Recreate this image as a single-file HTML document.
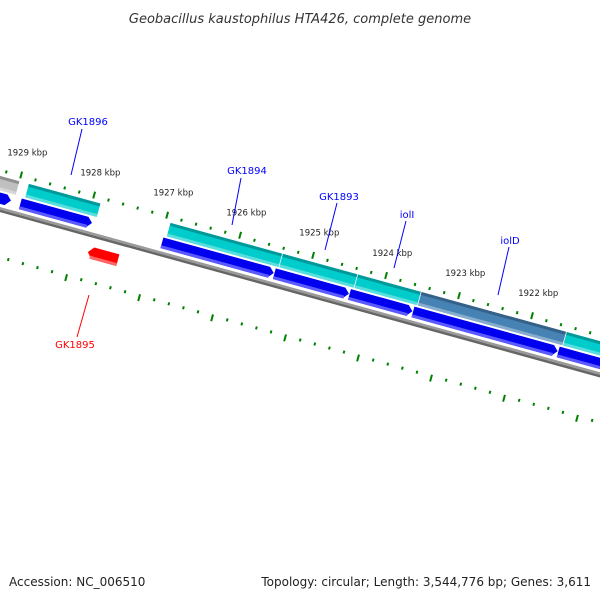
<!DOCTYPE html>
<html><head><meta charset="utf-8"><style>
body{margin:0;background:#fff}
svg{display:block;font-family:"DejaVu Sans","Liberation Sans",sans-serif}
</style></head><body>
<svg id="map" width="600" height="600" viewBox="0 0 600 600">
<text x="300" y="23" text-anchor="middle" font-size="13" font-style="italic" fill="#333">Geobacillus kaustophilus HTA426, complete genome</text>
<g id="track" transform="translate(0,207) rotate(15.4)"></g>
<g id="labels"></g>
<text x="9" y="586" font-size="12" fill="#222">Accession: NC_006510</text>
<text x="591" y="586" font-size="12" fill="#222" text-anchor="end">Topology: circular; Length: 3,544,776 bp; Genes: 3,611</text>
</svg>
<script>
// data (kbp)
const geneNames = ["prev","GK1896","GK1894","GK1893","iolI","iolD","next"];
const geneStart = [1930.2,1928.87,1926.93,1925.39,1924.36,1923.49,1921.50];
const geneEnd   = [1929.0,1927.89,1925.40,1924.37,1923.50,1921.51,1920.30];
const geneColor = ["#c0c0c0","#00cccc","#00cccc","#00cccc","#00cccc","#4682b4","#00cccc"];
const revStart = [1927.88];
const revEnd   = [1927.47];
const tickKbp = [1930,1929,1928,1927,1926,1925,1924,1923,1922,1921,1920];
const labelText = ["GK1896","GK1894","GK1893","iolI","iolD","GK1895"];
const labelColor = ["#0000ff","#0000ff","#0000ff","#0000ff","#0000ff","#ff0000"];
const labelXY = [[88,125],[247,174],[339,200],[407,218],[510,244],[75,348]];
const labelLine = [[82,129,71,175],[241,178,232,225],[337,203,325,250],[406,221,394,268],[509,247,498,295],[89,295,77,337]];

const NS="http://www.w3.org/2000/svg";
const track=document.getElementById('track');
const labels=document.getElementById('labels');
function s(k){return 87.6+(1928-k)*75.7;}
function mk(tag,attrs,parent){const e=document.createElementNS(NS,tag);for(const a in attrs)e.setAttribute(a,attrs[a]);parent.appendChild(e);return e;}

// backbone
let bb=mk('rect',{x:-50,y:0,width:800,height:2.5,fill:'#9a9a9a'},track);


let bb2=mk('rect',{x:-50,y:2.5,width:800,height:2.5,fill:'#666'},track);



const th=15.4*Math.PI/180;
tickKbp.forEach((k,i)=>{
  for(let j=0;j<5;j++){
    const kk=k-j*0.2;
    const x=s(kk);
    const major=j===0;
    let t=mk('rect',{x:x-1,y:major?-40:-37,width:2,height:major?7:3,fill:'#008000'},track);
    
    
    const x2=x-5.1;
    let t2=mk('rect',{x:x2-1,y:47,width:2,height:major?7:3,fill:'#008000'},track);
    
    
  }
  const sx=s(k), d=-60;
  const X=sx*Math.cos(th)-d*Math.sin(th), Y=207+sx*Math.sin(th)+d*Math.cos(th);
  if(X>-5 && X<575){
    let lt=mk('text',{x:X,y:Y+3,'text-anchor':'middle','font-size':8.5,fill:'#222'},labels);
    lt.textContent=k+" kbp";
    
    
  }
});

// genes
geneNames.forEach((n,i)=>{
  const a=s(geneStart[i]), b=s(geneEnd[i]), w=b-a;
  const g=mk('g',{},track);
  
  
  mk('rect',{x:a,y:-30,width:w,height:14,fill:geneColor[i]},g);
  mk('rect',{x:a,y:-30,width:w,height:3,fill:'#000',opacity:0.25},g);
  mk('rect',{x:a,y:-19,width:w,height:3,fill:'#fff',opacity:0.35},g);
  if(i>0){
    const bs=a-3, be=b-3;
    mk('path',{d:`M${bs},-14 L${be-5},-14 L${be},-9 L${be-5},-3 L${bs},-3 Z`,fill:'#0000ee'},g);
    mk('rect',{x:bs,y:-6,width:be-bs-4,height:3,fill:'#5a5aff'},g);
  } else {
    mk('path',{d:`M${a-60},-14 L${b-8},-14 L${b-3},-9 L${b-8},-3 L${a-60},-3 Z`,fill:'#0000ee'},g);
  }
});
revStart.forEach((st,i)=>{
  const a=s(st), b=s(revEnd[i]);
  const g=mk('path',{d:`M${a+5},14 L${b},14 L${b},26 L${a+5},26 L${a},20 Z`,fill:'#ff0000'},track);
  
  
  mk('rect',{x:a+3,y:23,width:b-a-3,height:3,fill:'#ff6666'},track);
});

labelText.forEach((t,i)=>{
  const l=labelLine[i];
  let ln=mk('line',{x1:l[0],y1:l[1],x2:l[2],y2:l[3],stroke:labelColor[i],'stroke-width':1},labels);
  
  
  let tx=mk('text',{x:labelXY[i][0],y:labelXY[i][1],'text-anchor':'middle','font-size':10,fill:labelColor[i]},labels);
  tx.textContent=t;
  
  
});
</script>
</body></html>
